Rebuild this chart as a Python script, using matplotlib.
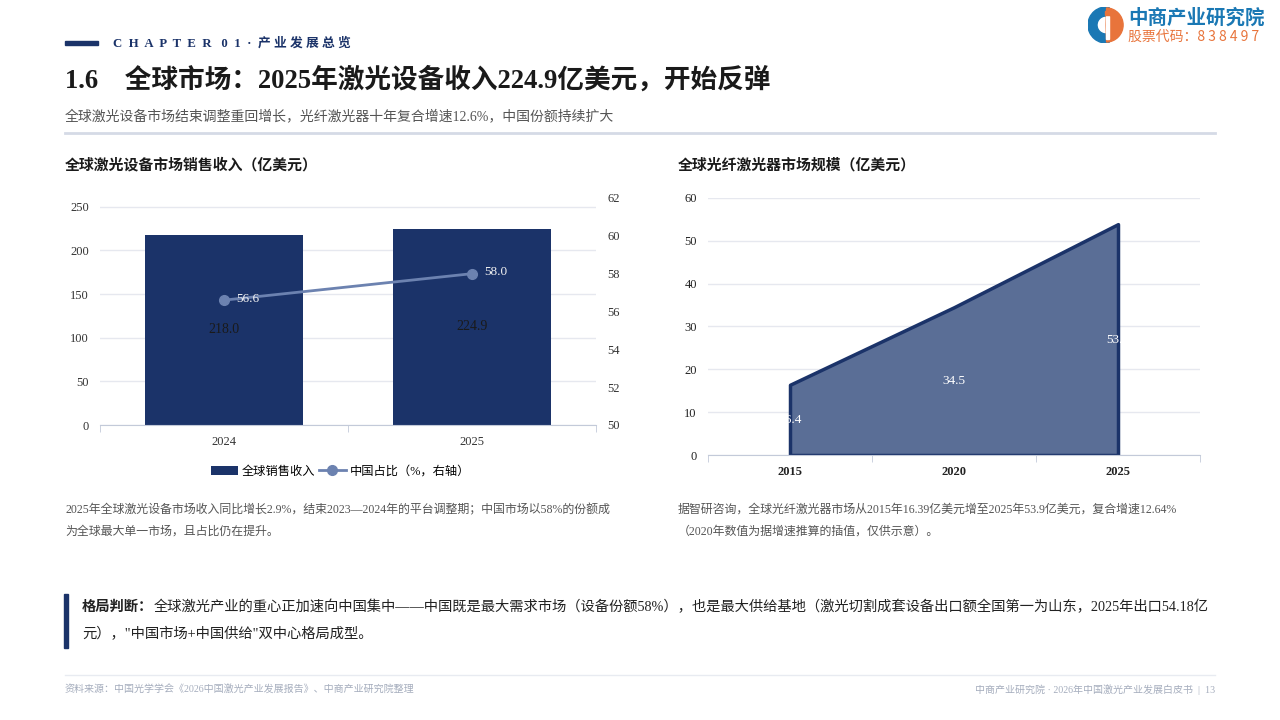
import matplotlib
matplotlib.use('Agg')
import matplotlib.pyplot as plt
import matplotlib.patches as patches
from matplotlib.lines import Line2D

plt.rcParams['font.family'] = ['Liberation Serif', 'Noto Sans CJK SC', 'DejaVu Sans']

# ---- data ----
rev_years = ['2024', '2025']
revenue = [218.0, 224.9]          # 亿美元
china_share = [56.6, 58.0]        # %
fiber_years = ['2015', '2020', '2025']
fiber_size = [16.4, 34.5, 53.9]   # 亿美元
fiber_labels = ['16.4', '34.5', '53.9']

NAVY = '#1b3369'
LINE = '#6c82b0'
GRID = '#e6e8ef'
AXC = '#c3cad9'
W, H = 1280, 720

fig = plt.figure(figsize=(12.8, 7.2), dpi=100)
renderer = fig.canvas.get_renderer()


def px(x, y):
    return x / W, 1 - y / H


def txt(x, y, s, **kw):
    fx, fy = px(x, y)
    return fig.text(fx, fy, s, **kw)


def box(l, t, r, b):
    return [l / W, 1 - b / H, (r - l) / W, (b - t) / H]


# ---- header ----
fig.add_artist(patches.Rectangle(px(65, 45), 33 / W, 4 / H, color=NAVY, transform=fig.transFigure))
txt(113, 43, 'C  H  A  P  T  E  R   0  1  ·  产 业 发 展 总 览', fontsize=9.2, color=NAVY,
    fontweight='bold', va='center')
txt(65, 80, '1.6　全球市场：2025年激光设备收入224.9亿美元，开始反弹', fontsize=19.2,
    fontweight='bold', color='#1a1a1a', va='center')
txt(65, 116, '全球激光设备市场结束调整重回增长，光纤激光器十年复合增速12.6%，中国份额持续扩大',
    fontsize=10, color='#555555', va='center')
fig.add_artist(Line2D([65 / W, 1215 / W], [1 - 133 / H] * 2, color='#d5dae6', lw=2))

# logo
lax = fig.add_axes(box(1088, 7, 1124, 43))
lax.set_xlim(-1, 1)
lax.set_ylim(-1, 1)
lax.set_aspect('equal')
lax.axis('off')
lax.add_patch(patches.Wedge((0, 0), 1, 80, 280, width=0.5, color='#1a78b4'))
lax.add_patch(patches.Wedge((0, 0), 0.95, 272, 88, color='#e8743b'))
lax.add_patch(patches.Rectangle((0.02, -0.75), 0.14, 1.25, color='white'))
lax.add_patch(patches.Rectangle((-0.05, 0.55), 0.3, 0.25, color='#e8743b'))
txt(1128, 18, '中商产业研究院', fontsize=14, fontweight='bold', color='#1a78b4', va='center',
    family=['Noto Sans CJK SC'])
txt(1128, 37, '股票代码：8 3 8 4 9 7', fontsize=10, color='#e8743b', va='center',
    family=['Noto Sans CJK SC'])

# ---- left chart ----
txt(65, 165, '全球激光设备市场销售收入（亿美元）', fontsize=10.7, fontweight='bold',
    color='#1a1a1a', va='center')
ax1 = fig.add_axes(box(100, 198, 596, 425))
x1 = list(range(len(rev_years)))
ax1.bar(x1, revenue, width=0.64, color=NAVY, zorder=2, label='全球销售收入')
ax1.set_xlim(-0.5, len(rev_years) - 0.5)
ax1.set_ylim(0, 260)
ax1.set_yticks(range(0, 251, 50))
ax1.set_xticks(x1)
ax1.set_xticklabels(rev_years)
ax1.set_xticks([-0.5, 0.5, 1.5], minor=True)
ax1.tick_params(axis='x', which='major', length=0, pad=8, labelsize=9, colors='#333333')
ax1.tick_params(axis='x', which='minor', length=5, color=AXC)
ax1.tick_params(axis='y', length=0, labelsize=9, colors='#333333', pad=8)
ax1.grid(axis='y', color=GRID, lw=1, zorder=0)
for s in ['top', 'right', 'left']:
    ax1.spines[s].set_visible(False)
ax1.spines['bottom'].set_color(AXC)
for xi, v in zip(x1, revenue):
    ax1.text(xi, v / 2, f'{v:.1f}', ha='center', va='center', fontsize=10, color='#1a1a1a', zorder=3)

ax2 = ax1.twinx()
ax2.plot(x1, china_share, color=LINE, lw=2, marker='o', markersize=7, zorder=4,
         label='中国占比（%，右轴）')
ax2.set_ylim(50, 62)
ax2.set_yticks(range(50, 63, 2))
ax2.tick_params(axis='y', length=0, labelsize=9, colors='#333333', pad=8)
for s in ['top', 'right', 'left', 'bottom']:
    ax2.spines[s].set_visible(False)
for xi, v in zip(x1, china_share):
    ax2.annotate(f'{v:.1f}', (xi, v), xytext=(9, 1), textcoords='offset points',
                 ha='left', va='center', fontsize=9.5, color='#f2f2f2', zorder=5)

h1, l1 = ax1.get_legend_handles_labels()
h2, l2 = ax2.get_legend_handles_labels()
ax1.legend(h1 + h2, l1 + l2, loc='center', bbox_to_anchor=(0.485, -0.205), ncol=2, frameon=False,
           fontsize=8.8, handlelength=2.2, handleheight=0.8, columnspacing=0.3, handletextpad=0.3)

# ---- right chart ----
txt(678, 165, '全球光纤激光器市场规模（亿美元）', fontsize=10.7, fontweight='bold',
    color='#1a1a1a', va='center')
ax3 = fig.add_axes(box(708, 198, 1200, 455))
x3 = list(range(len(fiber_years)))
ax3.fill_between(x3, fiber_size, 0, facecolor='#5a6e96', edgecolor=NAVY, lw=2.5, zorder=2)
ax3.set_xlim(-0.5, len(fiber_years) - 0.5)
ax3.set_ylim(0, 60)
ax3.set_yticks(range(0, 61, 10))
ax3.set_xticks(x3)
ax3.set_xticklabels(fiber_years)
ax3.set_xticks([-0.5, 0.5, 1.5, 2.5], minor=True)
ax3.tick_params(axis='x', which='major', length=0, pad=8, labelsize=9, colors='#222222')
ax3.tick_params(axis='x', which='minor', length=5, color=AXC)
ax3.tick_params(axis='y', length=0, labelsize=9, colors='#222222', pad=8)
for lab in ax3.get_xticklabels():
    lab.set_fontweight('bold')
ax3.grid(axis='y', color=GRID, lw=1, zorder=0)
for s in ['top', 'right', 'left']:
    ax3.spines[s].set_visible(False)
ax3.spines['bottom'].set_color(AXC)
for xi, v, lab in zip(x3, fiber_size, fiber_labels):
    ax3.text(xi, v / 2, lab, ha='center', va='center', fontsize=9.5, color='white', zorder=3)

# ---- notes ----
ncol = '#555555'
txt(65, 510, '2025年全球激光设备市场收入同比增长2.9%，结束2023—2024年的平台调整期；中国市场以58%的份额成',
    fontsize=8.6, color=ncol, va='center')
txt(65, 532, '为全球最大单一市场，且占比仍在提升。', fontsize=8.6, color=ncol, va='center')
txt(678, 510, '据智研咨询，全球光纤激光器市场从2015年16.39亿美元增至2025年53.9亿美元，复合增速12.64%',
    fontsize=8.6, color=ncol, va='center')
txt(678, 532, '（2020年数值为据增速推算的插值，仅供示意）。', fontsize=8.6, color=ncol, va='center')

# ---- callout ----
fig.add_artist(patches.Rectangle(px(64, 648), 4 / W, 54 / H, color=NAVY, transform=fig.transFigure))
t = txt(82, 607, '格局判断：', fontsize=10.3, fontweight='bold', color='#222222', va='center')
bb = t.get_window_extent(renderer)
txt(bb.x1, 607, '全球激光产业的重心正加速向中国集中——中国既是最大需求市场（设备份额58%），也是最大供给基地（激光切割成套设备出口额全国第一为山东，2025年出口54.18亿',
    fontsize=10.3, color='#222222', va='center')
txt(82, 634, '元），"中国市场+中国供给"双中心格局成型。', fontsize=10.3, color='#222222', va='center')

# ---- footer ----
fig.add_artist(Line2D([65 / W, 1215 / W], [1 - 675 / H] * 2, color='#e8ebf1', lw=1))
txt(65, 690, '资料来源：中国光学学会《2026中国激光产业发展报告》、中商产业研究院整理',
    fontsize=7.2, color='#a5adbd', va='center')
txt(1215, 690, '中商产业研究院 · 2026年中国激光产业发展白皮书  |  13', fontsize=7.2,
    color='#a5adbd', va='center', ha='right')

fig.savefig('out.png', dpi=100)
